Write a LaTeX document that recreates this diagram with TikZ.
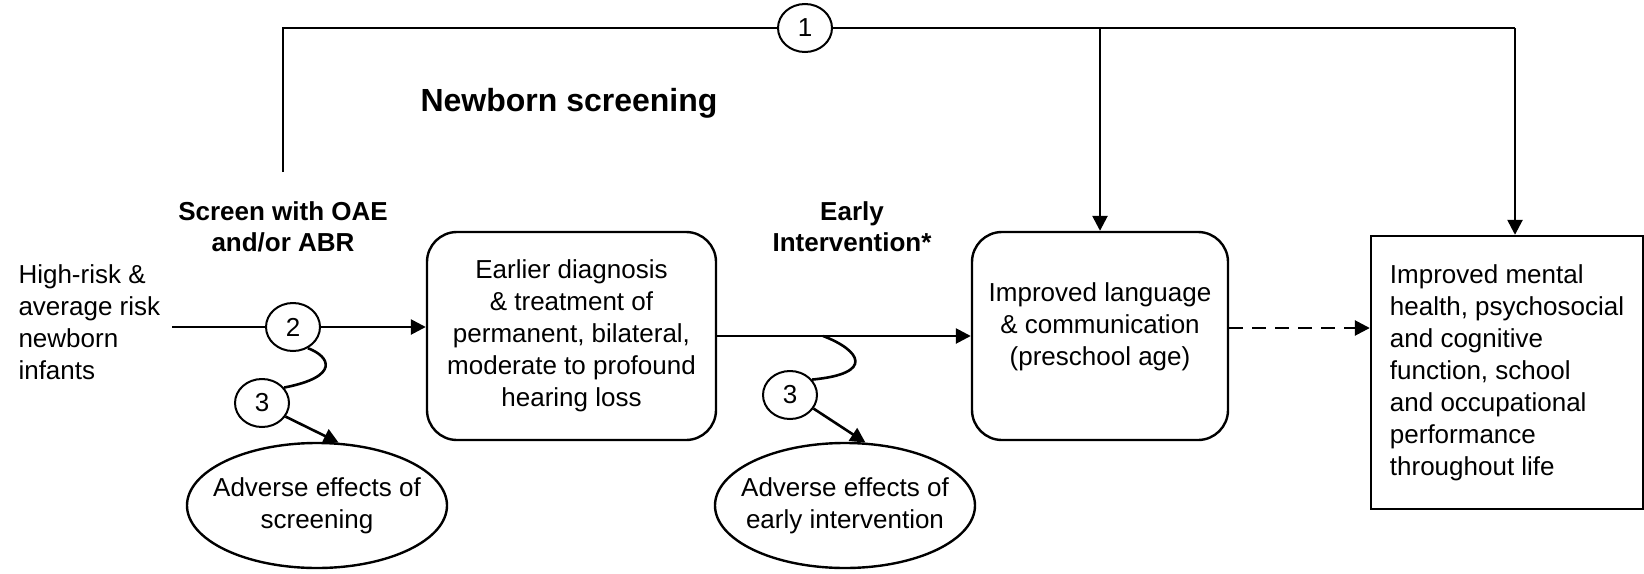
\documentclass[tikz,border=0pt]{standalone}
\usepackage{fontspec}
\setmainfont{Liberation Sans}
\usetikzlibrary{shapes.geometric,arrows.meta}
\tikzstyle{rbox} = [rectangle, rounded corners=30pt, draw, line width=2.4pt, text centered, align=center, minimum height=208pt, inner sep=0pt]
\tikzstyle{sbox} = [rectangle, draw, line width=2.4pt, align=left, minimum width=272pt, minimum height=273pt, inner sep=0pt]
\tikzstyle{kq} = [ellipse, draw, line width=2pt, fill=white, minimum width=54pt, minimum height=48pt, inner sep=0pt]
\tikzstyle{harm} = [ellipse, draw, line width=2.4pt, align=center, minimum width=260pt, minimum height=125pt, inner xsep=-12pt, inner ysep=0pt]
\tikzstyle{lbl} = [font=\fontsize{26}{31}\selectfont\bfseries, align=center]
\tikzstyle{wire} = [line width=2.6pt]
\tikzstyle{link} = [line width=2.6pt, -{Triangle[length=15pt,width=15pt]}]

\begin{document}
\begin{tikzpicture}[x=1pt, y=-1pt, font=\fontsize{26}{32}\selectfont]
\useasboundingbox (0,0) rectangle (1644,573);
% population and screening
\node[align=left, anchor=west] (pop) at (15,322) {High-risk \&\\average risk\\newborn\\infants};
\coordinate (start) at (172,327);
\node[kq] (kq2) at (293,327) {2};
\node[lbl] (scr) at (283,227) {Screen with OAE\\and/or ABR};
\node[font=\bfseries\fontsize{32}{38}\selectfont, anchor=west] (title) at (417,103) {Newborn screening};
% outcomes
\node[rbox, minimum width=289pt] (dx) at (571.5,336) {Earlier diagnosis\\\& treatment of\\permanent, bilateral,\\moderate to profound\\hearing loss};
\node[lbl] (ei) at (852,227) {Early\\Intervention*};
\node[rbox, minimum width=256pt] (lang) at (1100,336) {Improved language\\\& communication\\(preschool age)\\[-8pt]\mbox{}};
\node[sbox] (life) at (1507,372.5) {Improved mental\\health, psychosocial\\and cognitive\\function, school\\and occupational\\performance\\throughout life};
% harms
\node[kq] (kq3a) at (262,403) {3};
\node[kq] (kq3b) at (790,395) {3};
\node[harm] (ae1) at (317,505.5) {Adverse effects of\\screening};
\node[harm] (ae2) at (845,505.5) {Adverse effects of\\early intervention};
% overarching question
\node[kq] (kq1) at (805,28) {1};
\coordinate (scrtop) at (283,172);
\coordinate (corner1) at (283,28);
\coordinate (corner2) at (1515,28);
\coordinate (wave2) at (823,336);

\draw[wire] (start) -- (kq2.west);
\draw[link] (kq2.east) -- (kq2 -| dx.west);
\draw[link] (dx.east) -- (lang.west);
\draw[link, dash pattern=on 14pt off 9pt] ([yshift=8pt]lang.east) -- ([yshift=8pt]lang.east -| life.west);
\draw[wire] (scrtop) -- (corner1) -- (kq1.west);
\draw[wire] (kq1.east) -- (corner2);
\draw[link] (corner2) -- (corner2 |- life.north);
\draw[link] (lang.north |- corner2) -- (lang.north);
\draw[wire] (kq2.-55) .. controls +(22,8) and +(57,-11) .. (kq3a.35);
\draw[link] (kq3a.-30) -- (ae1.71);
\draw[wire] (wave2) .. controls +(37,14) and +(64,-6) .. (kq3b.35);
\draw[link] (kq3b.-30) -- (ae2.72);
\end{tikzpicture}
\end{document}
